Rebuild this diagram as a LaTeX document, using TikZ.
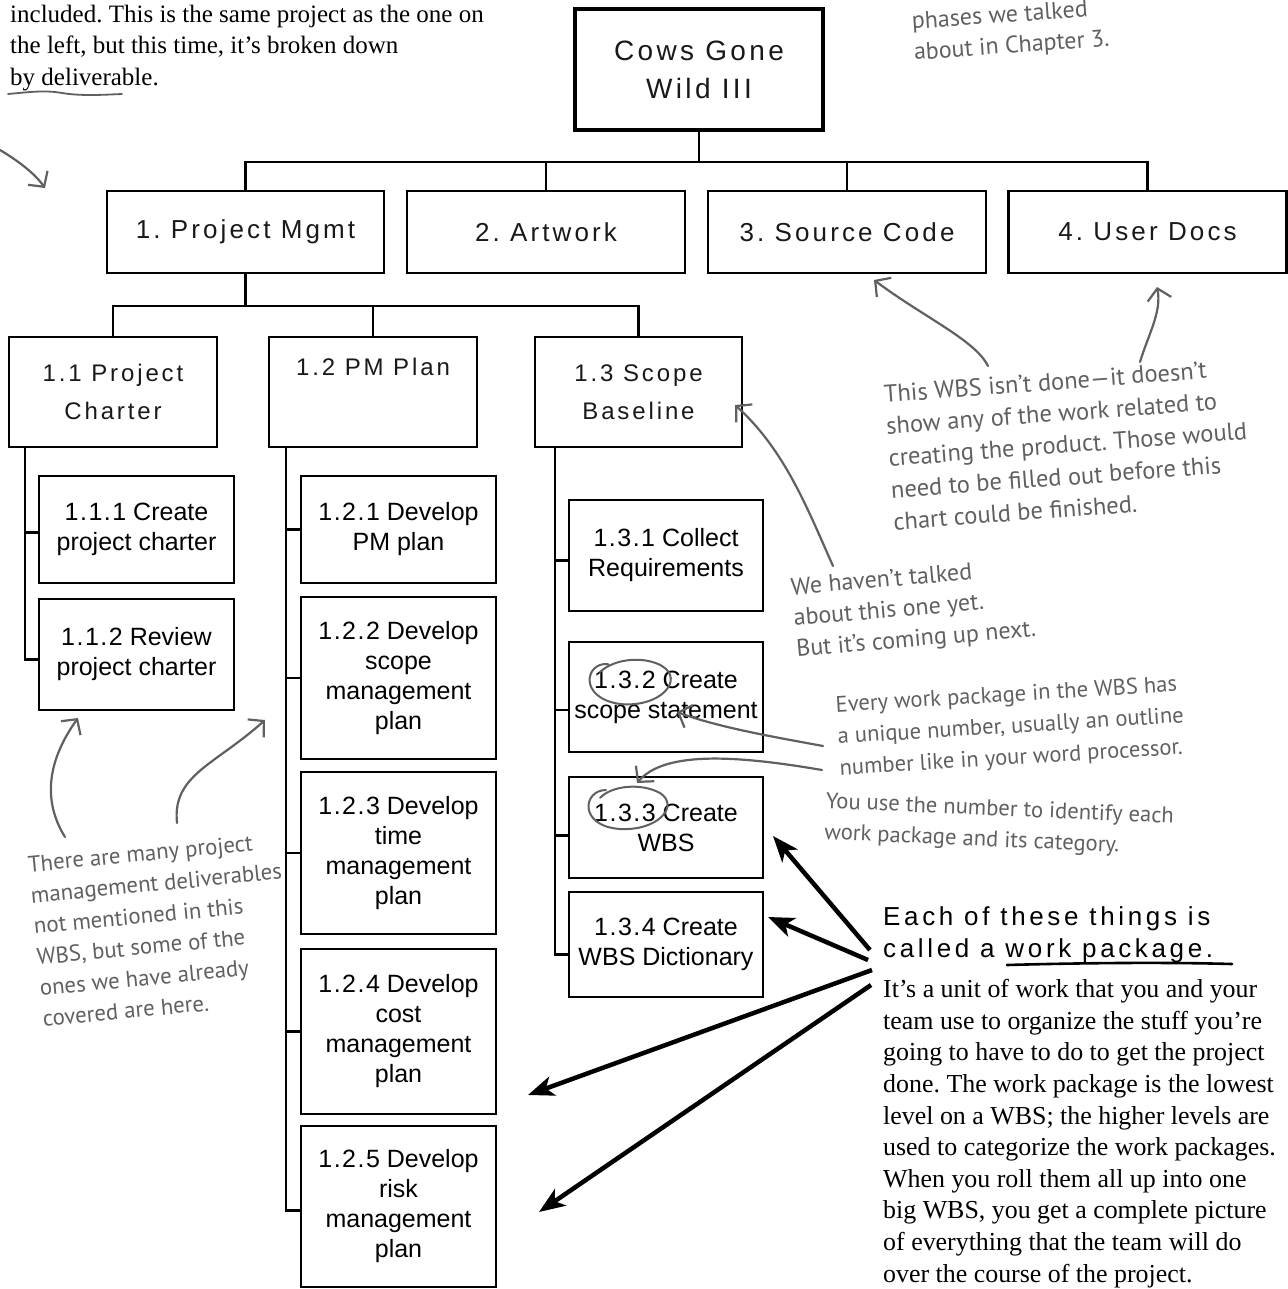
\documentclass[tikz,border=0pt]{standalone}
\usepackage{fontspec}
\setmainfont{Liberation Serif}
\newfontfamily\boxsans{Liberation Sans}
\newfontfamily\widesans[LetterSpace=12]{Liberation Sans}
\newfontfamily\headsans[LetterSpace=14]{Liberation Sans}
\newfontfamily\numsans[LetterSpace=6]{Liberation Sans}
\newfontfamily\handfont{PT Sans}
\usetikzlibrary{arrows.meta}
\definecolor{handgray}{RGB}{96,96,96}
\definecolor{inkgray}{RGB}{25,25,25}
\frenchspacing
\begin{document}
\begin{tikzpicture}[x=1pt,y=-1pt,
  wbsbox/.style={draw=black, line width=2.5pt, rectangle, inner sep=0pt, align=center, text=inkgray},
  topbox/.style={wbsbox, line width=4.5pt, font=\widesans\fontsize{28}{38}\selectfont},
  lvlone/.style={wbsbox, font=\widesans\fontsize{26}{30}\selectfont},
  lvltwo/.style={wbsbox, font=\widesans\fontsize{24}{38}\selectfont},
  lvlthree/.style={wbsbox, text=black, font=\boxsans\fontsize{25}{30}\selectfont},
  conn/.style={draw=black, line width=2.8pt},
  book/.style={anchor=base west, inner sep=0pt, text=black, font=\fontsize{25.9}{32}\selectfont},
  hand/.style={anchor=north west, inner sep=0pt, align=left, text=handgray, font=\handfont\fontsize{24}{31}\selectfont},
  handline/.style={draw=handgray, line width=2.2pt, line cap=round, line join=round},
  handarrow/.style={handline, -{Straight Barb[length=11pt,width=24pt]}},
  bigarrow/.style={draw=black, line width=4.5pt, -{Stealth[length=26pt,width=20pt,inset=7pt]}},
  headline/.style={anchor=base west, inner sep=0pt, text=black, font=\headsans\fontsize{26}{32}\selectfont}
]
\useasboundingbox (0,0) rectangle (1287,1289);

% ---------- top-left book text ----------
\node[book, font=\fontsize{25}{32}\selectfont] (introA) at (10,23) {included. This is the same project as the one on};
\node[book, font=\fontsize{25}{32}\selectfont] (introB) at (10,54) {the left, but this time, it’s broken down};
\node[book, font=\fontsize{25}{32}\selectfont] (introC) at (10,86) {by deliverable.};
\draw[handline, line width=1.8pt] (8,94) .. controls (30,92) and (45,90) .. (62,93) .. controls (80,96) and (100,95) .. (122,94);
\coordinate (tlstart) at (0,150);
\coordinate (tltip) at (45,188);
\draw[handarrow] (tlstart) .. controls (20,162) and (35,174) .. (tltip);

% ---------- top annotation ----------
\node[hand, rotate=4] (phases) at (911,12) {phases we talked\\about in Chapter 3.};

% ---------- WBS boxes ----------
\node[topbox, minimum width=248pt, minimum height=121pt] (top) at (699,69.5) {Cows Gone\\Wild III};

\node[lvlone, minimum width=277pt, minimum height=82pt] (l1) at (245.5,232) {1. Project Mgmt};
\node[lvlone, minimum width=278pt, minimum height=82pt] (l2) at (546,232) {2. Artwork};
\node[lvlone, minimum width=278pt, minimum height=82pt] (l3) at (847,232) {3. Source Code};
\node[lvlone, minimum width=278pt, minimum height=82pt] (l4) at (1147.5,232) {4. User Docs};

\node[lvltwo, minimum width=208pt, minimum height=110pt] (n11) at (113,392) {1.1 Project\\Charter};
\node[lvltwo, minimum width=208pt, minimum height=110pt] (n12) at (373,392) {1.2 PM Plan\\\strut};
\node[lvltwo, minimum width=207pt, minimum height=110pt] (n13) at (638.5,392) {1.3 Scope\\Baseline};

\node[lvlthree, minimum width=195pt, minimum height=107pt] (n111) at (136.5,529.5) {{\numsans 1.1.1} Create\\project charter};
\node[lvlthree, minimum width=195pt, minimum height=111pt] (n112) at (136.5,654.5) {{\numsans 1.1.2} Review\\project charter};

\node[lvlthree, minimum width=195pt, minimum height=107pt] (n121) at (398.5,529.5) {{\numsans 1.2.1} Develop\\PM plan};
\node[lvlthree, minimum width=195pt, minimum height=162pt] (n122) at (398.5,678) {{\numsans 1.2.2} Develop\\scope\\management\\plan};
\node[lvlthree, minimum width=195pt, minimum height=162pt] (n123) at (398.5,853) {{\numsans 1.2.3} Develop\\time\\management\\plan};
\node[lvlthree, minimum width=195pt, minimum height=165pt] (n124) at (398.5,1031.5) {{\numsans 1.2.4} Develop\\cost\\management\\plan};
\node[lvlthree, minimum width=195pt, minimum height=161pt] (n125) at (398.5,1206.5) {{\numsans 1.2.5} Develop\\risk\\management\\plan};

\node[lvlthree, minimum width=194pt, minimum height=111pt] (n131) at (666,555.5) {{\numsans 1.3.1} Collect\\Requirements};
\node[lvlthree, minimum width=194pt, minimum height=110pt] (n132) at (666,697) {{\numsans 1.3.2} Create\\scope statement};
\node[lvlthree, minimum width=194pt, minimum height=101pt] (n133) at (666,827.5) {{\numsans 1.3.3} Create\\WBS};
\node[lvlthree, minimum width=194pt, minimum height=105pt] (n134) at (666,944.5) {{\numsans 1.3.4} Create\\WBS Dictionary};

% ---------- connectors ----------
\coordinate (busA) at (0,162);
\coordinate (busB) at (0,306);
\draw[conn] (top.south) -- (top.south |- busA);
\draw[conn] (l1.north) -- (l1.north |- busA) -- (l4.north |- busA) -- (l4.north);
\draw[conn] (l2.north) -- (l2.north |- busA);
\draw[conn] (l3.north) -- (l3.north |- busA);

\draw[conn] (l1.south) -- (l1.south |- busB);
\draw[conn] (n11.north) -- (n11.north |- busB) -- (n13.north |- busB) -- (n13.north);
\draw[conn] (n12.north) -- (n12.north |- busB);

\coordinate (spA) at (25,0);
\coordinate (spB) at (286,0);
\coordinate (spC) at (555,0);
\coordinate (s111) at ([yshift=-3pt]n111.west);
\coordinate (s112) at ([yshift=-5pt]n112.west);
\coordinate (s125) at ([yshift=-4pt]n125.west);
\coordinate (s131) at ([yshift=-5pt]n131.west);
\coordinate (s132) at ([yshift=-13pt]n132.west);
\coordinate (s133) at ([yshift=-8pt]n133.west);
\coordinate (s134) at ([yshift=-10pt]n134.west);

\draw[conn] (n11.south -| spA) -- (spA |- s112) -- (s112);
\draw[conn] (spA |- s111) -- (s111);

\draw[conn] (n12.south -| spB) -- (spB |- s125) -- (s125);
\draw[conn] (spB |- n121.west) -- (n121.west);
\draw[conn] (spB |- n122.west) -- (n122.west);
\draw[conn] (spB |- n123.west) -- (n123.west);
\draw[conn] (spB |- n124.west) -- (n124.west);

\draw[conn] (n13.south -| spC) -- (spC |- s134) -- (s134);
\draw[conn] (spC |- s131) -- (s131);
\draw[conn] (spC |- s132) -- (s132);
\draw[conn] (spC |- s133) -- (s133);

% ---------- hand annotations ----------
\node[hand, rotate=4.3, font=\handfont\fontsize{24.5}{32}\selectfont] (notdone) at (883,385) {This WBS isn’t done—it doesn’t\\show any of the work related to\\creating the product. Those would\\need to be filled out before this\\chart could be finished.};
\coordinate (srcstart) at (988,366);
\coordinate (srctip) at (874,280);
\draw[handarrow] (srcstart) .. controls (975,340) and (925,318) .. (srctip);
\coordinate (usrstart) at (1140,362);
\coordinate (usrtip) at (1157,287);
\draw[handarrow] (usrstart) .. controls (1148,335) and (1162,312) .. (usrtip);

\node[hand, rotate=5, font=\handfont\fontsize{24}{31}\selectfont] (talked) at (790,578) {We haven’t talked\\about this one yet.\\But it’s coming up next.};
\coordinate (scopestart) at (833,566);
\coordinate (scopetip) at (735,405);
\draw[handarrow] (scopestart) .. controls (808,510) and (785,450) .. (scopetip);

\node[hand, rotate=3.5, font=\handfont\fontsize{22.6}{31.5}\selectfont] (everyA) at (835,696) {Every work package in the WBS has\\a unique number, usually an outline\\number like in your word processor.};
\node[hand, rotate=-2.5, font=\handfont\fontsize{22.6}{31}\selectfont] (everyB) at (826,792) {You use the number to identify each\\work package and its category.};

\draw[handline, line width=2pt] (608,664) .. controls (585,662) and (578,698) .. (620,704) .. controls (660,708) and (685,680) .. (662,666) .. controls (645,656) and (615,658) .. (600,672);
\draw[handline, line width=2pt] (606,790) .. controls (583,790) and (578,826) .. (620,829) .. controls (658,831) and (680,806) .. (660,793) .. controls (642,783) and (612,785) .. (600,798);
\coordinate (pkgstartA) at (823,746);
\coordinate (pkgtipA) at (677,712);
\draw[handarrow] (pkgstartA) .. controls (780,738) and (720,728) .. (pkgtipA);
\coordinate (pkgstartB) at (822,770);
\coordinate (pkgtipB) at (637,783);
\draw[handarrow] (pkgstartB) .. controls (740,756) and (665,750) .. (pkgtipB);

\node[hand, rotate=5.5, font=\handfont\fontsize{22.8}{31}\selectfont] (many) at (27,856) {There are many project\\management deliverables\\not mentioned in this\\WBS, but some of the\\ones we have already\\covered are here.};
\coordinate (manystartA) at (65,837);
\coordinate (manytipA) at (78,718);
\draw[handarrow] (manystartA) .. controls (42,800) and (48,760) .. (manytipA);
\coordinate (manystartB) at (177,823);
\coordinate (manytipB) at (265,720);
\draw[handarrow] (manystartB) .. controls (172,775) and (215,765) .. (manytipB);

% ---------- work package callout ----------
\node[headline] (eachA) at (883,925) {Each of these things is};
\node[headline] (eachB) at (883,957) {called a work package.};
\draw[draw=black, line width=2.6pt, line cap=round] (1007,965) .. controls (1080,963) and (1160,962) .. (1232,964);

\coordinate (wpA) at (870,950);
\coordinate (wpB) at (868,960);
\coordinate (wpC) at (872,970);
\coordinate (wpD) at (871,985);
\coordinate (tipA) at (773,836);
\coordinate (tipB) at (768,917);
\coordinate (tipC) at (528,1095);
\coordinate (tipD) at (539,1212);
\draw[bigarrow] (wpA) -- (tipA);
\draw[bigarrow] (wpB) -- (tipB);
\draw[bigarrow] (wpC) -- (tipC);
\draw[bigarrow] (wpD) -- (tipD);

\node[book] (bodyA) at (883,997) {It’s a unit of work that you and your};
\node[book] (bodyB) at (883,1029) {team use to organize the stuff you’re};
\node[book] (bodyC) at (883,1060) {going to have to do to get the project};
\node[book] (bodyD) at (883,1092) {done. The work package is the lowest};
\node[book] (bodyE) at (883,1124) {level on a WBS; the higher levels are};
\node[book] (bodyF) at (883,1155) {used to categorize the work packages.};
\node[book] (bodyG) at (883,1187) {When you roll them all up into one};
\node[book] (bodyH) at (883,1218) {big WBS, you get a complete picture};
\node[book] (bodyI) at (883,1250) {of everything that the team will do};
\node[book] (bodyJ) at (883,1282) {over the course of the project.};
\end{tikzpicture}
\end{document}
